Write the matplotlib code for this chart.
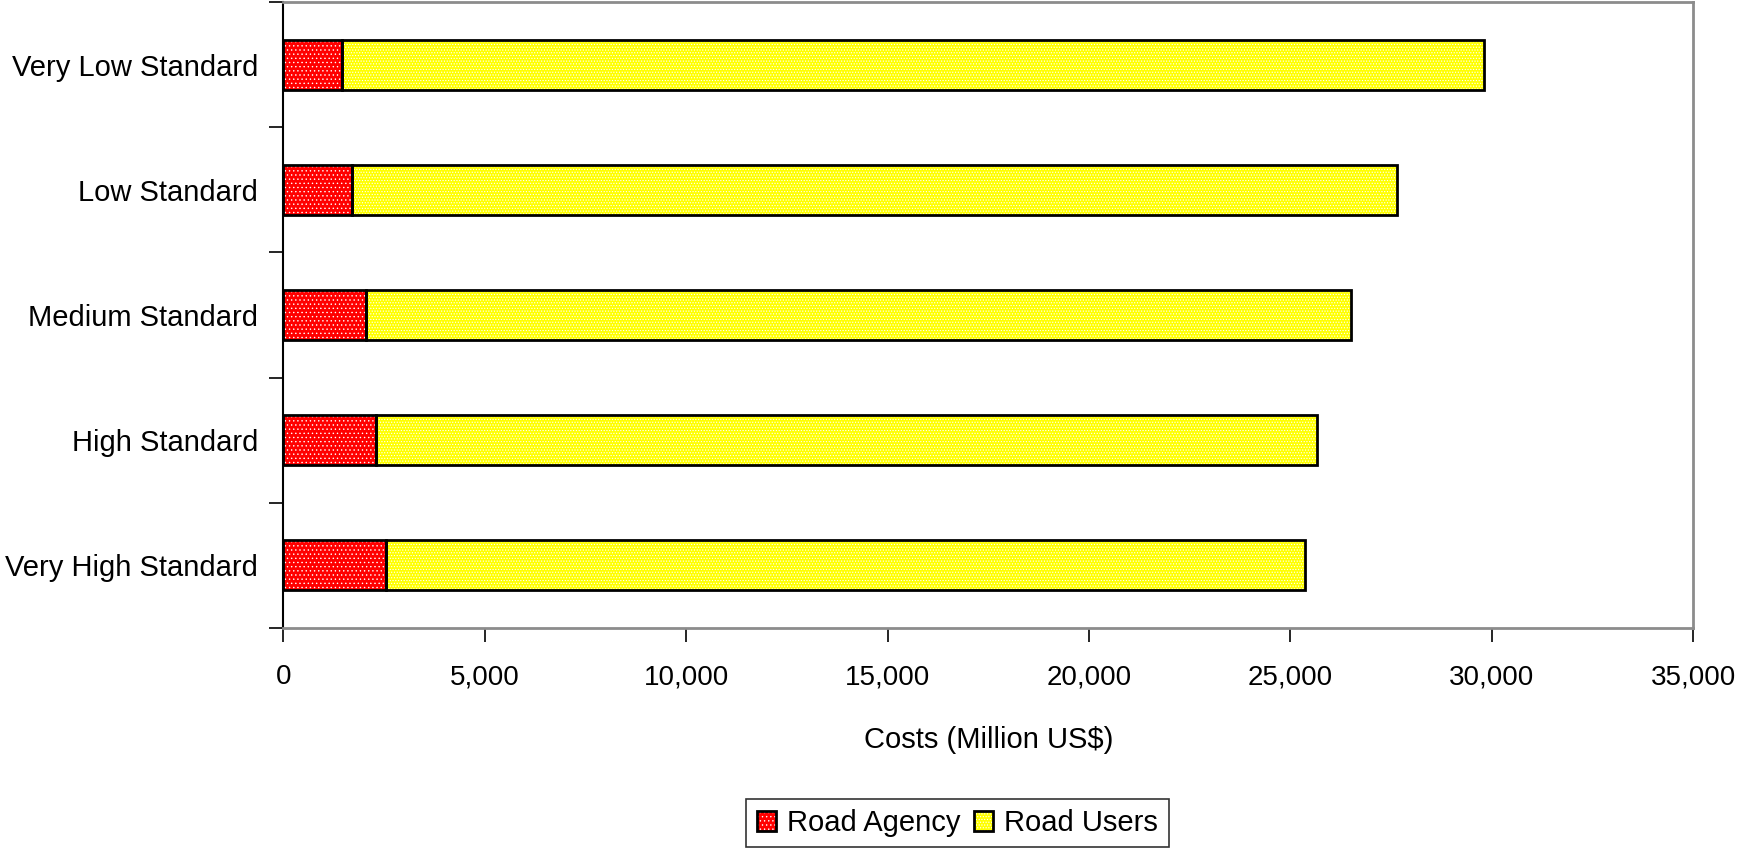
import matplotlib
matplotlib.use('Agg')
import matplotlib.pyplot as plt
from matplotlib.ticker import FuncFormatter, FixedLocator
from matplotlib.legend_handler import HandlerTuple

# costs per maintenance standard, million US$
standards = ['Very Low Standard', 'Low Standard', 'Medium Standard',
             'High Standard', 'Very High Standard']
agency = [1450, 1700, 2050, 2300, 2550]
total = [29800, 27650, 26500, 25650, 25350]
users = [t - a for t, a in zip(total, agency)]

x_ticks = [0, 5000, 10000, 15000, 20000, 25000, 30000, 35000]

plt.rcParams['font.family'] = ['Liberation Sans', 'DejaVu Sans']
plt.rcParams['hatch.linewidth'] = 0.5

fig = plt.figure(figsize=(17.39, 8.57), dpi=100)
ax = fig.add_axes([0.1629, 0.2672, 0.8108, 0.7305])

ypos = list(range(len(standards)))
h = 0.4

# filled layer: white dot pattern, then a separate black outline
b1 = ax.barh(ypos, agency, height=h, color='#ff0000', edgecolor='white',
             hatch='....', linewidth=0)
b2 = ax.barh(ypos, users, left=agency, height=h, color='#ffff00',
             edgecolor='white', hatch='......', linewidth=0)
o1 = ax.barh(ypos, agency, height=h, fill=False, edgecolor='black', linewidth=2)
o2 = ax.barh(ypos, users, left=agency, height=h, fill=False,
             edgecolor='black', linewidth=2)

ax.set_xlim(0, 35000)
ax.set_ylim(len(standards) - 0.5, -0.5)

ax.set_xticks(x_ticks)
ax.xaxis.set_major_formatter(FuncFormatter(lambda v, p: f'{int(v):,}'))
ax.tick_params(axis='x', labelsize=20, length=10, width=1.2, color='black', pad=16)

ax.set_yticks(ypos)
ax.set_yticklabels(standards)
ax.tick_params(axis='y', which='major', labelsize=21, length=0, pad=18)
ax.yaxis.set_minor_locator(FixedLocator([i - 0.5 for i in range(len(standards) + 1)]))
ax.tick_params(axis='y', which='minor', length=10, width=1.2, color='black')

ax.set_xlabel('Costs (Million US$)', fontsize=21, labelpad=26)

ax.spines['left'].set_color('black')
ax.spines['left'].set_linewidth(1.5)
for s in ('top', 'right', 'bottom'):
    ax.spines[s].set_color('#8c8c8c')
    ax.spines[s].set_linewidth(2)

leg = fig.legend([(b1, o1), (b2, o2)], ['Road Agency', 'Road Users'],
                 handler_map={tuple: HandlerTuple(ndivide=1)},
                 loc='upper center', bbox_to_anchor=(0.5506, 0.0677),
                 ncol=2, fontsize=21, frameon=True, fancybox=False,
                 handlelength=0.65, handleheight=0.65, handletextpad=0.4,
                 columnspacing=0.45, borderpad=0.35, borderaxespad=0)
leg.get_frame().set_edgecolor('black')
leg.get_frame().set_linewidth(1.2)

fig.savefig('out.png', dpi=100)
